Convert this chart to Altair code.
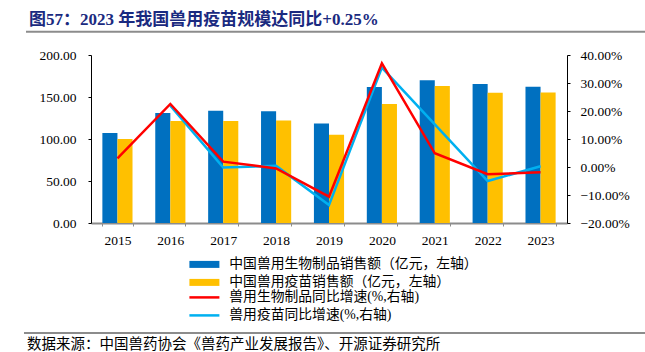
import altair as alt
import pandas as pd

SERIF = "Liberation Serif, Noto Sans CJK SC"

years = ["2015", "2016", "2017", "2018", "2019", "2020", "2021", "2022", "2023"]
bio_sales = [107.0, 131.0, 133.5, 133.0, 118.5, 162.0, 170.0, 165.5, 162.3]
vac_sales = [100.0, 121.5, 121.3, 122.0, 105.0, 141.7, 163.0, 155.0, 155.4]
bio_growth = [3.1, 22.5, 1.9, -0.5, -10.6, 37.0, 4.9, -2.6, -1.9]
vac_growth = [None, 21.9, -0.2, 0.4, -13.6, 35.5, 15.2, -5.0, 0.25]

bar_series = ["中国兽用生物制品销售额（亿元，左轴）", "中国兽用疫苗销售额（亿元，左轴）"]
line_series = ["兽用生物制品同比增速(%,右轴)", "兽用疫苗同比增速(%,右轴)"]
bar_colors = ["#0070C0", "#FFC000"]
line_colors = ["#FF0000", "#00B0F0"]

title_text = "图57：2023 年我国兽用疫苗规模达同比+0.25%"
source_text = "数据来源：中国兽药协会《兽药产业发展报告》、开源证券研究所"

bar_rows = []
for s, vals in zip(bar_series, [bio_sales, vac_sales]):
    for y, v in zip(years, vals):
        bar_rows.append({"year": y, "series": s, "value": v})
bars_df = pd.DataFrame(bar_rows)

line_rows = []
for s, vals in zip([line_series[1], line_series[0]], [vac_growth, bio_growth]):
    for y, v in zip(years, vals):
        if v is not None:
            line_rows.append({"year": y, "series": s, "value": v})
lines_df = pd.DataFrame(line_rows)

x_enc = alt.X(
    "year:N",
    sort=years,
    scale=alt.Scale(paddingInner=0.43, paddingOuter=0.215),
    axis=alt.Axis(
        title=None, labelAngle=0, labelFont=SERIF, labelFontSize=13.5,
        labelColor="#000000", labelPadding=7, domainColor="#8c8c8c",
        domainWidth=2, tickBand="extent", tickColor="#8c8c8c", tickSize=3,
    ),
)

bars = alt.Chart(bars_df).mark_bar().encode(
    x=x_enc,
    xOffset=alt.XOffset("series:N", sort=bar_series, scale=alt.Scale(domain=bar_series, paddingInner=0, paddingOuter=0)),
    y=alt.Y(
        "value:Q",
        scale=alt.Scale(domain=[0, 200], nice=False),
        axis=alt.Axis(
            values=[0, 50, 100, 150, 200], format=".2f", title=None,
            labelFont=SERIF, labelFontSize=13.5, labelColor="#000000",
            domainColor="#000000", tickColor="#000000", tickSize=3,
            labelPadding=12, grid=False,
        ),
    ),
    color=alt.Color(
        "series:N",
        scale=alt.Scale(domain=bar_series, range=bar_colors),
        legend=alt.Legend(
            orient="none", legendX=106.5, legendY=202.5, title=None,
            symbolType="M-4.286,-1H4.286V1H-4.286Z", symbolSize=49,
            symbolStrokeWidth=0, labelFont=SERIF, labelFontSize=13.8,
            labelColor="#000000", labelOffset=18, rowPadding=3, padding=0,
            labelLimit=500,
        ),
    ),
)

lines = alt.Chart(lines_df).mark_line(strokeWidth=2.5).encode(
    x=alt.X("year:N", sort=years),
    y=alt.Y(
        "value:Q",
        scale=alt.Scale(domain=[-20, 40], nice=False),
        axis=alt.Axis(
            orient="right", values=[-20, -10, 0, 10, 20, 30, 40],
            labelExpr="format(datum.value, '.2f') + '%'", title=None,
            labelFont=SERIF, labelFontSize=13.5, labelColor="#000000",
            domainColor="#000000", tickColor="#000000", tickSize=3,
            labelPadding=10, grid=False,
        ),
    ),
    stroke=alt.Stroke(
        "series:N",
        scale=alt.Scale(domain=line_series, range=line_colors),
        legend=alt.Legend(
            orient="none", legendX=106.5, legendY=235.5, title=None,
            symbolType="M-4.286,0H4.286", symbolSize=49,
            symbolStrokeWidth=2.5, labelFont=SERIF, labelFontSize=13.8,
            labelColor="#000000", labelOffset=18, rowPadding=3, padding=0,
            labelLimit=500,
        ),
    ),
)

ann_df = pd.DataFrame({"k": [0]})
title_mark = alt.Chart(ann_df).mark_text(
    text=title_text, align="left", baseline="alphabetic", font=SERIF,
    fontSize=17, fontWeight="bold", color="#1a2a80",
).encode(x=alt.value(-62), y=alt.value(-30))

rule_top = alt.Chart(ann_df).mark_rule(color="#8c8c8c", strokeWidth=2).encode(
    x=alt.value(-65), x2=alt.value(554), y=alt.value(-23.3)
)
rule_bottom = alt.Chart(ann_df).mark_rule(color="#8c8c8c", strokeWidth=2).encode(
    x=alt.value(-67), x2=alt.value(554), y=alt.value(278)
)
source_mark = alt.Chart(ann_df).mark_text(
    text=source_text, align="left", baseline="alphabetic", font=SERIF,
    fontSize=14.5, color="#000000",
).encode(x=alt.value(-64), y=alt.value(294))

chart = alt.layer(
    bars, lines, title_mark, rule_top, rule_bottom, source_mark
).resolve_scale(y="independent").properties(
    width=476, height=168,
    autosize=alt.AutoSizeParams(type="none"),
    padding={"left": 91, "top": 55, "right": 78, "bottom": 129},
).configure_view(stroke=None)

chart.save("out.html", embed_options={"renderer": "svg", "actions": False})
